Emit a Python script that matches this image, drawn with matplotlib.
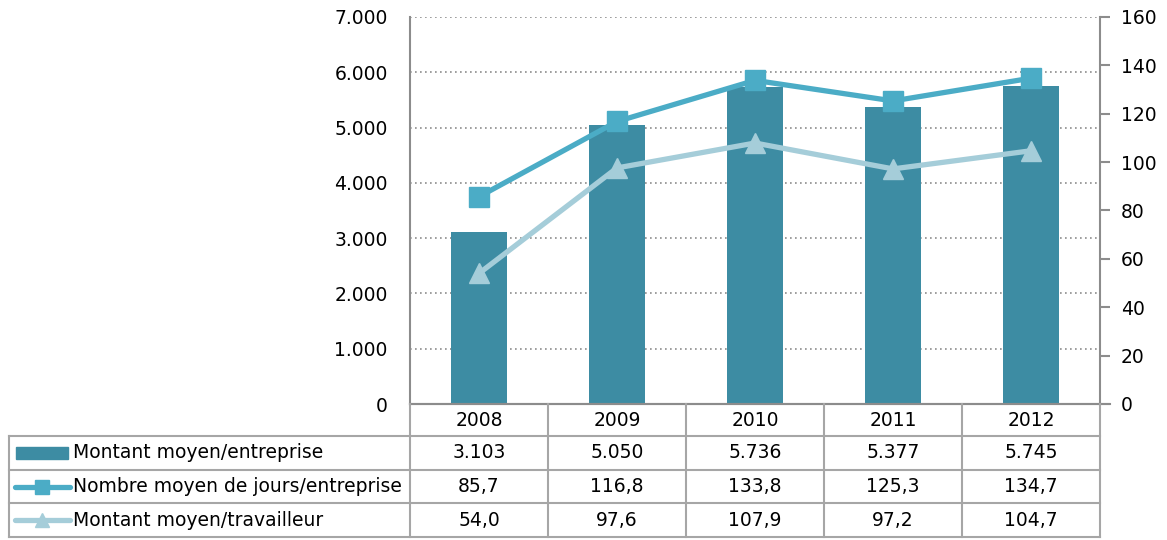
import numpy as np
import matplotlib.pyplot as plt
from matplotlib.lines import Line2D
from matplotlib.patches import Rectangle

years = ['2008', '2009', '2010', '2011', '2012']
montant_entreprise = [3103, 5050, 5736, 5377, 5745]
jours_entreprise = [85.7, 116.8, 133.8, 125.3, 134.7]
montant_travailleur = [54.0, 97.6, 107.9, 97.2, 104.7]
series_names = ['Montant moyen/entreprise',
                'Nombre moyen de jours/entreprise',
                'Montant moyen/travailleur']

c_bar = '#3D8CA3'
c_jours = '#4BACC6'
c_trav = '#A5CDD9'
c_grid = '#8C8C8C'
c_border = '#A6A6A6'

W, H = 1167, 540
fig = plt.figure(figsize=(W / 100, H / 100), dpi=100)
plt.rcParams['font.family'] = 'DejaVu Sans'
fs = 13.5

# plot area in pixel coordinates
x0, x1, y_top, y_bot = 410, 1100, 17, 404
ax = fig.add_axes([x0 / W, 1 - y_bot / H, (x1 - x0) / W, (y_bot - y_top) / H])
x = np.arange(len(years))
ax.bar(x, montant_entreprise, width=0.4, color=c_bar, zorder=2)
ax.set_xlim(-0.5, len(years) - 0.5)
ax.set_ylim(0, 7000)
ax.set_yticks(np.arange(0, 7001, 1000))
ax.set_yticklabels([f'{v:,}'.replace(',', '.') for v in range(0, 7001, 1000)], fontsize=fs)
ax.tick_params(axis='y', length=0, pad=16)
ax.set_xticks([])
ax.grid(axis='y', linestyle=(0, (1, 2)), color=c_grid, linewidth=1.2, zorder=0)
for s in ['top', 'right']:
    ax.spines[s].set_visible(False)
ax.spines['left'].set_color(c_grid)
ax.spines['left'].set_linewidth(1.5)
ax.spines['bottom'].set_color(c_grid)
ax.spines['bottom'].set_linewidth(1.5)

ax2 = ax.twinx()
ax2.plot(x, jours_entreprise, color=c_jours, lw=3.8, marker='s', markersize=14, zorder=3)
ax2.plot(x, montant_travailleur, color=c_trav, lw=3.8, marker='^', markersize=15, zorder=3)
ax2.set_ylim(0, 160)
ax2.set_yticks(np.arange(0, 161, 20))
ax2.tick_params(axis='y', labelsize=fs, length=7, width=1.5, color=c_grid, pad=8)
for s in ['top', 'left', 'bottom']:
    ax2.spines[s].set_visible(False)
ax2.spines['right'].set_color(c_grid)
ax2.spines['right'].set_linewidth(1.5)
ax2.set_xlim(-0.5, len(years) - 0.5)

# data table below the chart (pixel coordinates)
def fx(px):
    return px / W

def fy(py):
    return 1 - py / H

col_w = (x1 - x0) / len(years)
row_y = [404, 436, 470, 503, 537]
tab_left = 9
lk = dict(color=c_border, lw=1.5, transform=fig.transFigure)
# horizontal lines
fig.add_artist(Line2D([fx(x0), fx(x1 + 10)], [fy(row_y[0])] * 2, color=c_grid, lw=1.5, transform=fig.transFigure))
for ry in row_y[1:]:
    fig.add_artist(Line2D([fx(tab_left), fx(x1)], [fy(ry)] * 2, **lk))
# vertical lines
fig.add_artist(Line2D([fx(tab_left)] * 2, [fy(row_y[1]), fy(row_y[-1])], **lk))
for i in range(len(years) + 1):
    cx = x0 + i * col_w
    fig.add_artist(Line2D([fx(cx)] * 2, [fy(row_y[0]), fy(row_y[-1])], **lk))

rows = [
    [f'{v:,}'.replace(',', '.') for v in montant_entreprise],
    [f'{v:.1f}'.replace('.', ',') for v in jours_entreprise],
    [f'{v:.1f}'.replace('.', ',') for v in montant_travailleur],
]
for i, yr in enumerate(years):
    cx = x0 + (i + 0.5) * col_w
    fig.text(fx(cx), fy((row_y[0] + row_y[1]) / 2), yr, ha='center', va='center', fontsize=fs)
    for r, vals in enumerate(rows):
        cy = (row_y[r + 1] + row_y[r + 2]) / 2
        fig.text(fx(cx), fy(cy), vals[i], ha='center', va='center', fontsize=fs)

# legend keys in the row headers
for r, name in enumerate(series_names):
    cy = (row_y[r + 1] + row_y[r + 2]) / 2
    if r == 0:
        fig.add_artist(Rectangle((fx(16), fy(cy + 6)), fx(52), 12 / H, color=c_bar,
                                 transform=fig.transFigure))
    else:
        col = c_jours if r == 1 else c_trav
        mk = 's' if r == 1 else '^'
        fig.add_artist(Line2D([fx(15), fx(70)], [fy(cy)] * 2, color=col, lw=3.8,
                              transform=fig.transFigure, solid_capstyle='round'))
        fig.add_artist(Line2D([fx(42)], [fy(cy)], color=col, marker=mk, markersize=10,
                              transform=fig.transFigure))
    fig.text(fx(73), fy(cy), name, ha='left', va='center', fontsize=fs)

fig.savefig('out.png', dpi=100)
